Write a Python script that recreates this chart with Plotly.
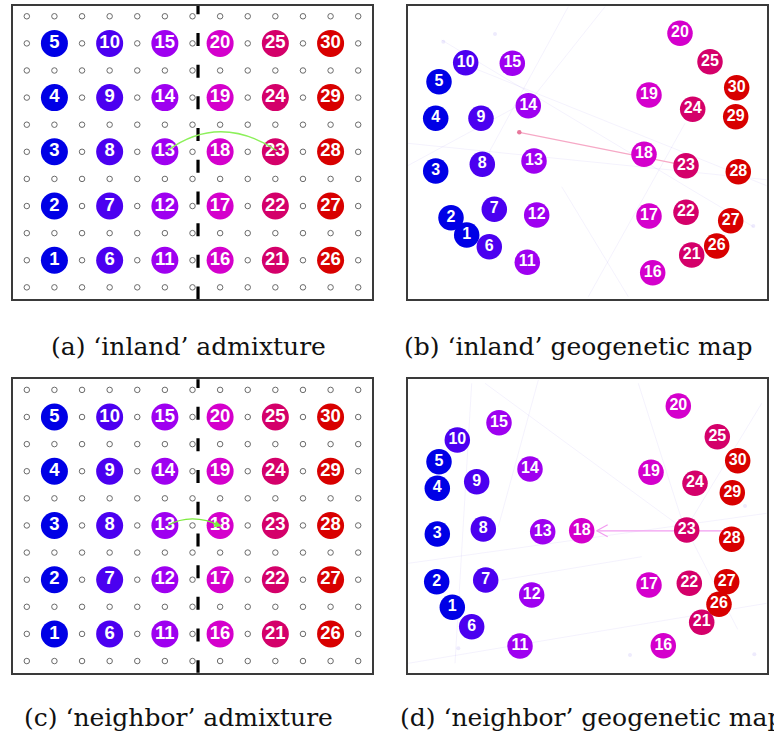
import plotly.graph_objects as go

W, H = 774, 734

# ---------------- data ----------------
pop_labels = [str(i) for i in range(1, 31)]
group_colors = ["#0000E6", "#4B00F0", "#9E00F0", "#D400CC", "#D4006A", "#D80000"]
pop_colors = [group_colors[(i - 1) // 5] for i in range(1, 31)]

# lattice positions of the sampled demes (panels a, c)
deme_x = [1, 1, 1, 1, 1, 3, 3, 3, 3, 3, 5, 5, 5, 5, 5,
          7, 7, 7, 7, 7, 9, 9, 9, 9, 9, 11, 11, 11, 11, 11]
deme_y = [1, 3, 5, 7, 9, 1, 3, 5, 7, 9, 1, 3, 5, 7, 9,
          1, 3, 5, 7, 9, 1, 3, 5, 7, 9, 1, 3, 5, 7, 9]
lattice_cols = list(range(13))
lattice_rows = list(range(11))
barrier_x = 6.2

# admixture arcs on the lattice: (source, target, arc lift)
admix_a = dict(src=(5.1, 5.05), dst=(9.05, 5.05), lift=1.38)
admix_c = dict(src=(5.1, 5.0), dst=(7.05, 4.97), lift=0.5)

# geogenetic map coordinates, panel (b)
map_b_x = [59.0, 43.3, 28.0, 28.0, 31.3, 81.6, 86.6, 74.6, 73.3, 58.0,
           119.6, 129.0, 126.3, 120.6, 104.6, 245.0, 241.3, 236.3, 241.3, 272.3,
           284.0, 278.3, 278.3, 285.0, 302.3, 309.0, 323.0, 330.6, 328.0, 329.0]
map_b_y = [229.3, 212.0, 165.3, 112.6, 76.0, 241.0, 203.6, 158.6, 112.6, 57.0,
           256.6, 209.3, 155.3, 100.0, 57.6, 267.0, 210.3, 148.6, 89.3, 27.6,
           249.3, 206.6, 160.0, 103.6, 56.0, 240.3, 215.0, 166.0, 111.0, 82.0]
admix_b_src = (111.6, 126.6)
admix_b_dst = (278.3, 160.0)

# geogenetic map coordinates, panel (d)
map_d_x = [44.6, 29.0, 29.6, 29.6, 31.3, 64.0, 78.0, 75.6, 69.0, 49.6,
           112.3, 124.0, 135.0, 122.3, 91.3, 255.6, 241.3, 174.0, 243.3, 270.6,
           294.0, 281.6, 279.0, 287.3, 309.6, 311.3, 319.0, 324.0, 324.6, 330.0]
map_d_y = [228.0, 202.4, 154.7, 109.0, 82.4, 247.4, 200.7, 149.7, 102.4, 60.7,
           266.7, 215.7, 152.4, 89.7, 43.4, 266.4, 205.7, 151.4, 93.0, 26.7,
           243.0, 204.0, 150.7, 104.0, 57.4, 225.0, 202.4, 160.0, 113.4, 81.4]
admix_d_src = (316.0, 151.5)
admix_d_dst = (189.0, 151.5)

# faint background edges in the maps
faint_b = [((160.6, 1), (77.3, 154)), ((197.3, 1), (120.6, 97.6)), ((0, 137.6), (359, 174)),
           ((34, 34.3), (345.6, 221)), ((180.6, 291), (277.3, 117.6)), ((220.6, 291), (154, 181)),
           ((0, 160), (120, 95)), ((60, 60), (359, 180))]
faint_b_dots = [(87.3, 28.3), (35.6, 36), (345.6, 220.3)]
faint_d = [((130.6, 0.7), (90.6, 147.4)), ((77.3, 4), (277.3, 150.7)), ((0.6, 184), (359, 134)),
           ((64, 4), (47.3, 284)), ((230.6, 4), (277.3, 150.7)), ((354, 24), (277.3, 150.7)),
           ((0.6, 284), (359, 224)), ((234, 177.4), (94, 200.7)), ((279, 150.7), (330, 250))]
faint_d_dots = [(50.6, 269), (337.3, 126.7), (346.6, 275), (222.3, 275.7)]

captions = ["(a) \u2018inland\u2019 admixture", "(b) \u2018inland\u2019 geogenetic map",
            "(c) \u2018neighbor\u2019 admixture", "(d) \u2018neighbor\u2019 geogenetic map"]

# ---------------- figure ----------------
fig = go.Figure()

panels = {
    "a": dict(x="x", y="y", xd=(13, 372), yd=(5.7, 299)),
    "b": dict(x="x2", y="y2", xd=(407.7, 766.7), yd=(5.7, 299)),
    "c": dict(x="x3", y="y3", xd=(13, 372), yd=(379.3, 672.7)),
    "d": dict(x="x4", y="y4", xd=(407.7, 766.7), yd=(379.3, 672.7)),
}

def lattice_panel(p, arc, arrow):
    xa, ya = panels[p]["x"], panels[p]["y"]
    lx = [c for r in lattice_rows for c in lattice_cols]
    ly = [r for r in lattice_rows for c in lattice_cols]
    fig.add_trace(go.Scatter(x=lx, y=ly, mode="markers", xaxis=xa, yaxis=ya,
                             marker=dict(symbol="circle-open", size=5.5, color="#6a6a6a",
                                         line=dict(width=1)),
                             hoverinfo="skip", showlegend=False))
    fig.add_trace(go.Scatter(x=[barrier_x, barrier_x], y=[-0.45, 10.4], mode="lines",
                             xaxis=xa, yaxis=ya,
                             line=dict(color="black", width=3.2, dash="13px,18.7px"),
                             hoverinfo="skip", showlegend=False))
    fig.add_trace(go.Scatter(x=deme_x, y=deme_y, mode="markers+text", xaxis=xa, yaxis=ya,
                             marker=dict(size=27, color=pop_colors, line=dict(width=0)),
                             text=["<b>" + t + "</b>" for t in pop_labels],
                             textposition="middle center",
                             textfont=dict(family="Liberation Sans, Arial", size=18.5, color="white"),
                             hoverinfo="skip", showlegend=False))
    (x0, y0), (x1, y1) = arc["src"], arc["dst"]
    cx, cy = (x0 + x1) / 2 - 0.1, max(y0, y1) + arc["lift"]
    color = "#8CF05A" if not arrow else "#7CEB3C"
    fig.add_shape(type="path", path=f"M {x0},{y0} Q {cx},{cy} {x1},{y1}",
                  xref=xa, yref=ya, line=dict(color=color, width=1.3), layer="above")
    if arrow:
        fig.add_annotation(x=x1, y=y1, ax=x1 - 0.35, ay=y1 + 0.12, xref=xa, yref=ya,
                           axref=xa, ayref=ya, showarrow=True, arrowhead=2, arrowsize=1,
                           arrowwidth=1.4, arrowcolor=color, text="")

def map_panel(p, mx, my, faint, dots, src, dst, kind):
    xa, ya = panels[p]["x"], panels[p]["y"]
    for (a, b) in faint:
        fig.add_trace(go.Scatter(x=[a[0], b[0]], y=[a[1], b[1]], mode="lines", xaxis=xa, yaxis=ya,
                                 line=dict(color="rgba(110,90,235,0.08)", width=1),
                                 hoverinfo="skip", showlegend=False))
    fig.add_trace(go.Scatter(x=[d[0] for d in dots], y=[d[1] for d in dots], mode="markers",
                             xaxis=xa, yaxis=ya,
                             marker=dict(size=4, color="rgba(140,120,240,0.15)"),
                             hoverinfo="skip", showlegend=False))
    if kind == "line":
        fig.add_trace(go.Scatter(x=[src[0], dst[0]], y=[src[1], dst[1]], mode="lines",
                                 xaxis=xa, yaxis=ya, line=dict(color="#F6A9C6", width=1.2),
                                 hoverinfo="skip", showlegend=False))
        fig.add_trace(go.Scatter(x=[src[0]], y=[src[1]], mode="markers", xaxis=xa, yaxis=ya,
                                 marker=dict(size=4.5, color="#E8789C"),
                                 hoverinfo="skip", showlegend=False))
    else:
        col = "#F29CF0"
        fig.add_trace(go.Scatter(x=[src[0], dst[0]], y=[src[1], dst[1]], mode="lines",
                                 xaxis=xa, yaxis=ya, line=dict(color=col, width=1.3),
                                 hoverinfo="skip", showlegend=False))
        fig.add_trace(go.Scatter(x=[dst[0] + 11, dst[0], dst[0] + 11],
                                 y=[dst[1] - 6, dst[1], dst[1] + 6], mode="lines",
                                 xaxis=xa, yaxis=ya, line=dict(color=col, width=1.3),
                                 hoverinfo="skip", showlegend=False))
    fig.add_trace(go.Scatter(x=mx, y=my, mode="markers+text", xaxis=xa, yaxis=ya,
                             marker=dict(size=25.5, color=pop_colors, line=dict(width=0)),
                             text=["<b>" + t + "</b>" for t in pop_labels],
                             textposition="middle center",
                             textfont=dict(family="Liberation Sans, Arial", size=16, color="white"),
                             hoverinfo="skip", showlegend=False))

lattice_panel("a", admix_a, arrow=False)
map_panel("b", map_b_x, map_b_y, faint_b, faint_b_dots, admix_b_src, admix_b_dst, "line")
lattice_panel("c", admix_c, arrow=True)
map_panel("d", map_d_x, map_d_y, faint_d, faint_d_dots, admix_d_src, admix_d_dst, "arrow")

axis_common = dict(showgrid=False, zeroline=False, showticklabels=False, ticks="",
                   showline=True, mirror=True, linecolor="#3a3a3a", linewidth=1.6,
                   fixedrange=True)
layout_axes = {}
for i, p in enumerate(["a", "b", "c", "d"]):
    sfx = "" if i == 0 else str(i + 1)
    xd, yd = panels[p]["xd"], panels[p]["yd"]
    xdom = [xd[0] / W, xd[1] / W]
    ydom = [1 - yd[1] / H, 1 - yd[0] / H]
    if p in ("a", "c"):
        xr, yr = [-0.5, 12.5], [-0.43, 10.39]
    else:
        xr, yr = [0, xd[1] - xd[0]], [yd[1] - yd[0], 0]
    layout_axes["xaxis" + sfx] = dict(axis_common, domain=xdom, range=xr,
                                      anchor="y" + sfx)
    layout_axes["yaxis" + sfx] = dict(axis_common, domain=ydom, range=yr,
                                      anchor="x" + sfx)

fig.update_layout(width=W, height=H, margin=dict(l=0, r=0, t=0, b=0),
                  paper_bgcolor="white", plot_bgcolor="white", showlegend=False,
                  **layout_axes)

cap_pos = [(188, 346, "center"), (578, 346, "center"), (178, 717, "center"), (398, 717, "left")]
for txt, (cx, cy, anc) in zip(captions, cap_pos):
    fig.add_annotation(x=cx / W, y=1 - cy / H, xref="paper", yref="paper", text=txt,
                       showarrow=False, xanchor=anc, yanchor="middle",
                       font=dict(family="DejaVu Serif", size=25, color="#111"))

fig.write_html("out.html", config={"displayModeBar": False},
               post_script="document.body.style.margin='0';document.body.style.overflow='hidden';")
